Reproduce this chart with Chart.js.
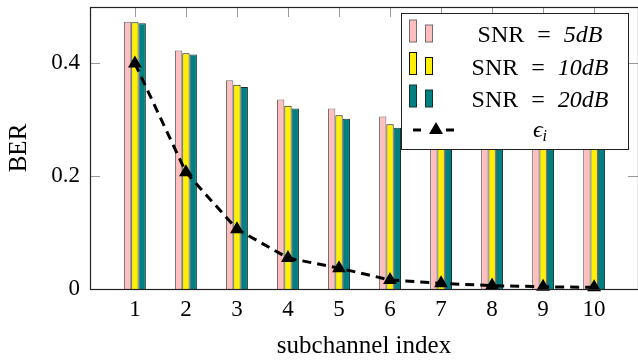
<!DOCTYPE html>
<html>
<head>
<meta charset="utf-8">
<script src="https://cdn.jsdelivr.net/npm/chart.js@4/dist/chart.umd.min.js"></script>
<style>
  html, body { margin: 0; padding: 0; background: #fff; }
  #wrap { width: 638px; height: 362px; }
</style>
</head>
<body>
<div id="wrap"><canvas id="berChart" width="638" height="362"></canvas></div>
<script>
// subchannel indices and read-off BER values
var subchannels = [1, 2, 3, 4, 5, 6, 7, 8, 9, 10];
var ber5dB  = [0.474, 0.423, 0.370, 0.336, 0.320, 0.306, 0.300, 0.296, 0.292, 0.290];
var ber10dB = [0.473, 0.418, 0.362, 0.325, 0.308, 0.292, 0.286, 0.282, 0.279, 0.277];
var ber20dB = [0.471, 0.416, 0.358, 0.320, 0.302, 0.286, 0.281, 0.277, 0.274, 0.272];
var epsilon = [0.400, 0.207, 0.106, 0.055, 0.037, 0.016, 0.010, 0.006, 0.004, 0.003];
var snrLabels = ['5', '10', '20'];
var yTicks = [0, 0.2, 0.4];
var yTickLabels = ['0', '0.2', '0.4'];

var pinkFill = 'rgb(255,191,191)', pinkLine = 'rgb(110,110,110)';
var yelFill = 'rgb(255,240,0)', yelLine = 'rgb(20,20,20)';
var tealFill = 'rgb(0,128,128)', tealLine = 'rgb(20,50,50)';
var serif = '"Liberation Serif", "DejaVu Serif", serif';

function pts(vals) {
    return subchannels.map(function(x, i) { return {x: x, y: vals[i]}; });
}

// drop the automatic label padding so the plot box fills the canvas like the tex one
function noPad(s) {
    s.paddingTop = 0; s.paddingBottom = 0;
    s.paddingLeft = 0; s.paddingRight = 0;
}

// frame and inward tick marks, like pgfplots
const framePlugin = {
    id: 'frame',
    beforeDatasetsDraw: function(chart) {
        const ctx = chart.ctx, a = chart.chartArea;
        const xs = chart.scales.x, ys = chart.scales.y;
        ctx.save();
        ctx.strokeStyle = '#999';
        ctx.lineWidth = 1;
        ctx.beginPath();
        subchannels.forEach(function(v) {
            var px = Math.round(xs.getPixelForValue(v)) + 0.5;
            ctx.moveTo(px, a.top); ctx.lineTo(px, a.top + 10);
            ctx.moveTo(px, a.bottom); ctx.lineTo(px, a.bottom - 10);
        });
        yTicks.forEach(function(v) {
            var py = Math.round(ys.getPixelForValue(v)) + 0.5;
            ctx.moveTo(a.left, py); ctx.lineTo(a.left + 10, py);
            ctx.moveTo(a.right, py); ctx.lineTo(a.right - 10, py);
        });
        ctx.stroke();
        ctx.restore();
    },
    afterDatasetsDraw: function(chart) {
        const ctx = chart.ctx, a = chart.chartArea;
        ctx.save();
        ctx.strokeStyle = '#222';
        ctx.lineWidth = 1.2;
        ctx.strokeRect(Math.round(a.left) + 0.5, Math.round(a.top) + 0.5,
            Math.round(a.right - a.left), Math.round(a.bottom - a.top));
        ctx.restore();
    }
};

// legend box in the upper right corner
const legendPlugin = {
    id: 'texLegend',
    afterDraw: function(chart) {
        const ctx = chart.ctx;
        const bx = 401.5, by = 13.5, bw = 227, bh = 136;
        ctx.save();
        ctx.fillStyle = '#fff';
        ctx.fillRect(bx, by, bw, bh);
        ctx.strokeStyle = '#222';
        ctx.lineWidth = 1;
        ctx.strokeRect(bx, by, bw, bh);

        var fills = [pinkFill, yelFill, tealFill];
        var lines = [pinkLine, yelLine, tealLine];
        var cx = 540;
        ctx.textBaseline = 'alphabetic';
        ctx.textAlign = 'left';
        snrLabels.forEach(function(num, i) {
            var base = 42 + i * 32.5;
            ctx.fillStyle = fills[i];
            ctx.strokeStyle = lines[i];
            ctx.fillRect(409.5, base - 22, 7, 22);
            ctx.strokeRect(409.5, base - 22, 7, 22);
            ctx.fillRect(425.5, base - 17, 7, 17);
            ctx.strokeRect(425.5, base - 17, 7, 17);

            ctx.font = '24px ' + serif;
            var wA = ctx.measureText('SNR').width;
            var wEq = ctx.measureText('=').width;
            ctx.font = 'italic 24px ' + serif;
            var wB = ctx.measureText(num + 'dB').width;
            var gap = 13;
            var x0 = cx - (wA + gap + wEq + gap + wB) / 2;
            ctx.fillStyle = '#000';
            ctx.font = '24px ' + serif;
            ctx.fillText('SNR', x0, base);
            ctx.fillText('=', x0 + wA + gap, base);
            ctx.font = 'italic 24px ' + serif;
            ctx.fillText(num + 'dB', x0 + wA + gap + wEq + gap, base);
        });

        // epsilon row
        var ly = 130;
        ctx.strokeStyle = '#000';
        ctx.lineWidth = 3;
        ctx.beginPath();
        ctx.moveTo(413, ly); ctx.lineTo(421, ly);
        ctx.moveTo(446, ly); ctx.lineTo(454, ly);
        ctx.stroke();
        ctx.fillStyle = '#000';
        ctx.beginPath();
        ctx.moveTo(436, ly - 8); ctx.lineTo(443, ly + 4); ctx.lineTo(429, ly + 4);
        ctx.closePath();
        ctx.fill();

        ctx.font = 'italic 24px ' + serif;
        var we = ctx.measureText('\u03f5').width;
        ctx.font = 'italic 16px ' + serif;
        var wi = ctx.measureText('i').width;
        var ex = cx - (we + wi) / 2;
        ctx.font = 'italic 24px ' + serif;
        ctx.fillText('\u03f5', ex, 137);
        ctx.font = 'italic 16px ' + serif;
        ctx.fillText('i', ex + we, 141);
        ctx.restore();
    }
};

var ctx = document.getElementById('berChart').getContext('2d');
var myChart = new Chart(ctx, {
    type: 'bar',
    data: {
        datasets: [{
            type: 'line',
            label: 'epsilon_i',
            data: pts(epsilon),
            borderColor: '#000',
            backgroundColor: '#000',
            borderWidth: 3,
            borderDash: [9, 6],
            pointStyle: 'triangle',
            pointRadius: 8,
            pointBorderWidth: 0,
            tension: 0,
            clip: false,
            order: 0
        }, {
            label: 'SNR = 5dB',
            data: pts(ber5dB),
            backgroundColor: pinkFill,
            borderColor: pinkLine,
            borderWidth: 1,
            order: 1
        }, {
            label: 'SNR = 10dB',
            data: pts(ber10dB),
            backgroundColor: yelFill,
            borderColor: yelLine,
            borderWidth: 1,
            order: 1
        }, {
            label: 'SNR = 20dB',
            data: pts(ber20dB),
            backgroundColor: tealFill,
            borderColor: tealLine,
            borderWidth: 1,
            order: 1
        }]
    },
    options: {
        responsive: false,
        animation: false,
        devicePixelRatio: 1,
        layout: { autoPadding: false, padding: { top: 7, right: 0, left: 0, bottom: 1 } },
        datasets: {
            bar: { categoryPercentage: 0.43, barPercentage: 1.0, grouped: true }
        },
        plugins: {
            legend: { display: false },
            tooltip: { enabled: false }
        },
        scales: {
            x: {
                type: 'linear',
                offset: false,
                min: 0.12,
                max: 10.86,
                afterFit: function(s) { s.height = 72; noPad(s); },
                afterBuildTicks: function(s) {
                    s.ticks = subchannels.map(function(v) { return {value: v}; });
                },
                grid: { display: false, drawTicks: false },
                border: { display: false },
                ticks: {
                    padding: 7,
                    color: '#000',
                    font: { family: serif, size: 23 },
                    callback: function(v) { return String(v); }
                },
                title: {
                    display: true,
                    text: 'subchannel index',
                    color: '#000',
                    padding: { top: 0, bottom: 0 },
                    font: { family: serif, size: 25 }
                }
            },
            y: {
                min: 0,
                max: 0.5,
                afterFit: function(s) { s.width = 90; noPad(s); },
                afterBuildTicks: function(s) {
                    s.ticks = yTicks.map(function(v) { return {value: v}; });
                },
                grid: { display: false, drawTicks: false },
                border: { display: false },
                ticks: {
                    padding: 10,
                    color: '#000',
                    font: { family: serif, size: 23 },
                    callback: function(v) {
                        var i = yTicks.indexOf(v);
                        return i >= 0 ? yTickLabels[i] : '';
                    }
                },
                title: {
                    display: true,
                    text: 'BER',
                    color: '#000',
                    padding: { top: 4, bottom: 0 },
                    font: { family: serif, size: 25 }
                }
            }
        }
    },
    plugins: [framePlugin, legendPlugin]
});
</script>
</body>
</html>
